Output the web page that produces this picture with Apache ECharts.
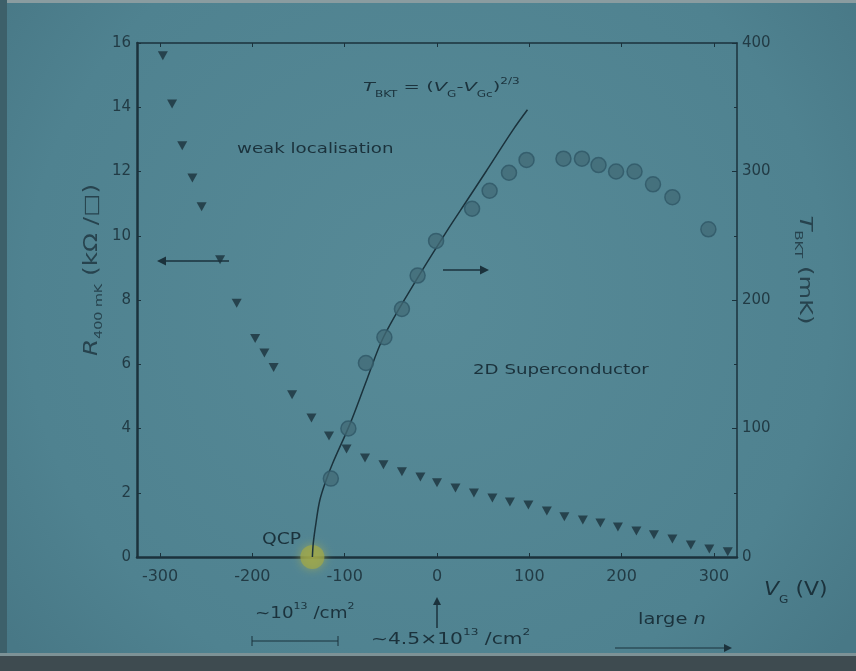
<!DOCTYPE html>
<html>
<head>
<meta charset="utf-8">
<title>Gate-tuned superconductor phase diagram</title>
<script src="https://cdn.jsdelivr.net/npm/echarts@6/dist/echarts.min.js"></script>
<style>
  html, body { margin: 0; padding: 0; background: #4f7f8b; }
  #chart { width: 856px; height: 671px; }
</style>
</head>
<body>
<div id="chart"></div>
<script>
// Sheet resistance at 400 mK (left axis, kΩ/□) versus gate voltage V_G (V)
const resistanceVg = [-297, -287, -276, -265, -255, -235, -217, -197, -187, -177, -157, -136, -117, -98, -78,
  -58, -38, -18, 0, 20, 40, 60, 79, 99, 119, 138, 158, 177, 196, 216, 235, 255, 275, 295, 315];
const resistanceR = [15.6, 14.1, 12.8, 11.8, 10.9, 9.25, 7.9, 6.8, 6.35, 5.9, 5.05, 4.33, 3.77, 3.36, 3.08,
  2.87, 2.65, 2.49, 2.31, 2.15, 1.99, 1.84, 1.71, 1.62, 1.43, 1.25, 1.15, 1.06, 0.93, 0.81, 0.69, 0.56, 0.37, 0.25, 0.16];

// BKT transition temperature (right axis, mK) versus gate voltage
const tbktVg = [-115, -96, -77, -57, -38, -21, -1, 38, 57, 78, 97, 137, 157, 175, 194, 214, 234, 255, 294];
const tbktT = [61, 100, 151, 171, 193, 219, 246, 271, 285, 299, 309, 310, 310, 305, 300, 300, 290, 280, 255];

// Fitted critical curve T_BKT ∝ (V_G − V_Gc)^(2/3), sampled points
const fitVg = [-135, -134, -131, -127, -120, -113, -94, -76, -58, -22, 11, 33, 54, 82, 98];
const fitT = [0, 11, 27, 44, 60, 73, 104, 138, 171, 216, 254, 278, 301, 332, 348];

// Quantum critical point
const qcpVg = -135;

// Axis ticks
const xTicks = [-300, -200, -100, 0, 100, 200, 300];

const pairs = (xs, ys) => xs.map((x, i) => [x, ys[i]]);

const ink = '#1b323c';
const softInk = '#27434e';
const labelInk = '#223b45';
const font = '"DejaVu Sans", Verdana, sans-serif';

const chart = echarts.init(document.getElementById('chart'), null, { renderer: 'canvas' });

function arrowHead(x, y, dir, size) {
  const s = size;
  let pts;
  if (dir === 'left') pts = [[x, y], [x + s, y - s * 0.5], [x + s, y + s * 0.5]];
  else if (dir === 'right') pts = [[x, y], [x - s, y - s * 0.5], [x - s, y + s * 0.5]];
  else pts = [[x, y], [x - s * 0.5, y + s], [x + s * 0.5, y + s]];
  return { type: 'polygon', shape: { points: pts }, style: { fill: ink }, z: 20 };
}

function richStyles(size, subSize, lh, color) {
  const c = color || ink;
  return {
    i: { fontSize: size, fontStyle: 'italic', fill: c, fontFamily: font, lineHeight: lh, verticalAlign: 'middle' },
    n: { fontSize: size, fill: c, fontFamily: font, lineHeight: lh, verticalAlign: 'middle' },
    sub: { fontSize: subSize, fill: c, fontFamily: font, lineHeight: lh, verticalAlign: 'bottom' },
    sup: { fontSize: subSize, fill: c, fontFamily: font, lineHeight: lh, verticalAlign: 'top' }
  };
}

// Rich text element, stretched along its reading direction by `stretch`
function label(x, y, text, size, subSize, stretch, extra) {
  const lh = Math.round(size * 1.6);
  return Object.assign({
    type: 'text', x: x, y: y, z: 20, scaleX: stretch, scaleY: 1,
    style: { rich: richStyles(size, subSize, lh, extra && extra.color), text: text, align: 'left', verticalAlign: 'middle' }
  }, extra && extra.el);
}

const option = {
  animation: false,
  textStyle: { fontFamily: font },
  grid: { left: 137, right: 119, top: 43, bottom: 114, containLabel: false },
  graphic: [
    // slide backdrop
    {
      type: 'rect', z: -10, silent: true,
      shape: { x: 0, y: 0, width: 856, height: 671 },
      style: {
        fill: new echarts.graphic.RadialGradient(0.5, 0.45, 0.8, [
          { offset: 0, color: '#578a97' },
          { offset: 0.75, color: '#4f8290' },
          { offset: 1, color: '#487886' }
        ])
      }
    },
    { type: 'rect', z: -9, silent: true, shape: { x: 0, y: 0, width: 856, height: 3 }, style: { fill: '#8a9ca0' } },
    { type: 'rect', z: -9, silent: true, shape: { x: 0, y: 0, width: 7, height: 671 }, style: { fill: '#3d606a' } },
    { type: 'rect', z: -9, silent: true, shape: { x: 0, y: 653, width: 856, height: 3 }, style: { fill: '#7d9296' } },
    { type: 'rect', z: -9, silent: true, shape: { x: 0, y: 656, width: 856, height: 15 }, style: { fill: '#3e4b50' } },

    // formula
    label(363, 88, '{i|T}{sub|BKT}{n| = (}{i|V}{sub|G}{n|-}{i|V}{sub|Gc}{n|)}{sup|2/3}', 13, 8, 1.5),
    // region labels
    label(237, 149, '{n|weak localisation}', 14, 9, 1.3),
    label(473, 370, '{n|2D Superconductor}', 14, 9, 1.3),
    label(262, 540, '{n|QCP}', 15, 9, 1.25),

    // axis-assignment arrows
    { type: 'line', z: 20, shape: { x1: 164, y1: 261, x2: 229, y2: 261 }, style: { stroke: ink, lineWidth: 1.5 } },
    arrowHead(157, 261, 'left', 9),
    { type: 'line', z: 20, shape: { x1: 443, y1: 270, x2: 482, y2: 270 }, style: { stroke: ink, lineWidth: 1.5 } },
    arrowHead(489, 270, 'right', 9),

    // axis titles (rotated, centred)
    {
      type: 'text', x: 92, y: 270, rotation: Math.PI / 2, scaleX: 1.3, z: 20,
      style: { rich: richStyles(19, 11, 26, softInk), text: '{i|R}{sub|400 mK}{n| (kΩ /□)}', align: 'center', verticalAlign: 'middle' }
    },
    {
      type: 'text', x: 805, y: 270, rotation: -Math.PI / 2, scaleX: 1.35, z: 20,
      style: { rich: richStyles(18, 11, 26, softInk), text: '{i|T}{sub|BKT}{n| (mK)}', align: 'center', verticalAlign: 'middle' }
    },
    label(764, 590, '{i|V}{sub|G}{n| (V)}', 20, 11, 1.1),

    // carrier density annotations below the axis
    label(255, 614, '{n|~10}{sup|13}{n| /cm}{sup|2}', 15, 9, 1.22),
    { type: 'line', z: 20, shape: { x1: 252, y1: 641, x2: 338, y2: 641 }, style: { stroke: ink, lineWidth: 1 } },
    { type: 'line', z: 20, shape: { x1: 252, y1: 636, x2: 252, y2: 646 }, style: { stroke: ink, lineWidth: 1 } },
    { type: 'line', z: 20, shape: { x1: 338, y1: 636, x2: 338, y2: 646 }, style: { stroke: ink, lineWidth: 1 } },
    { type: 'line', z: 20, shape: { x1: 437, y1: 604, x2: 437, y2: 628 }, style: { stroke: ink, lineWidth: 1.5 } },
    arrowHead(437, 597, 'up', 8),
    label(371, 640, '{n|~4.5×10}{sup|13}{n| /cm}{sup|2}', 15, 9, 1.35),
    label(638, 620, '{n|large }{i|n}', 15, 9, 1.3),
    { type: 'line', z: 20, shape: { x1: 615, y1: 648, x2: 725, y2: 648 }, style: { stroke: ink, lineWidth: 1 } },
    arrowHead(732, 648, 'right', 8)
  ],
  xAxis: [
    {
      type: 'value', position: 'bottom', min: -325, max: 325,
      axisLine: { show: true, onZero: false, lineStyle: { color: ink, width: 2.5 } },
      axisTick: { show: true, inside: true, length: 4, customValues: xTicks, lineStyle: { color: ink } },
      axisLabel: {
        show: true, customValues: xTicks, margin: 12, fontSize: 16, color: labelInk, fontFamily: font,
        formatter: v => (v < 0 ? '-' + Math.abs(v) : String(v))
      },
      splitLine: { show: false }
    },
    {
      type: 'value', position: 'top', min: -325, max: 325,
      axisLine: { show: true, onZero: false, lineStyle: { color: ink, width: 1.5 } },
      axisTick: { show: true, inside: true, length: 4, customValues: xTicks, lineStyle: { color: ink } },
      axisLabel: { show: false },
      splitLine: { show: false }
    }
  ],
  yAxis: [
    {
      type: 'value', position: 'left', min: 0, max: 16, interval: 2,
      axisLine: { show: true, onZero: false, lineStyle: { color: ink, width: 2.5 } },
      axisTick: { show: true, inside: true, length: 4, lineStyle: { color: ink } },
      axisLabel: { margin: 6, fontSize: 15, color: labelInk, fontFamily: font },
      splitLine: { show: false }
    },
    {
      type: 'value', position: 'right', min: 0, max: 400, interval: 100,
      axisLine: { show: true, onZero: false, lineStyle: { color: ink, width: 1.5 } },
      axisTick: { show: true, inside: true, length: 5, lineStyle: { color: ink } },
      minorTick: { show: true, splitNumber: 2, length: 3, lineStyle: { color: ink } },
      axisLabel: { margin: 5, fontSize: 15, color: labelInk, fontFamily: font },
      splitLine: { show: false }
    }
  ],
  series: [
    {
      name: 'QCP', type: 'scatter', xAxisIndex: 0, yAxisIndex: 0,
      data: [[qcpVg, 0]], symbol: 'circle', symbolSize: 24, z: 1,
      itemStyle: { color: 'rgba(160,168,72,0.9)', shadowColor: 'rgba(170,175,80,0.9)', shadowBlur: 10 },
      silent: true
    },
    {
      name: 'fit', type: 'line', xAxisIndex: 0, yAxisIndex: 1,
      data: pairs(fitVg, fitT), smooth: 0.35, showSymbol: false, symbol: 'none',
      lineStyle: { color: ink, width: 1.5 }, z: 3
    },
    {
      name: 'T_BKT', type: 'scatter', xAxisIndex: 0, yAxisIndex: 1,
      data: pairs(tbktVg, tbktT), symbol: 'circle', symbolSize: 15, z: 4,
      itemStyle: { color: 'rgba(66,106,118,0.95)', borderColor: '#2f5866', borderWidth: 1.5 }
    },
    {
      name: 'R_400mK', type: 'scatter', xAxisIndex: 0, yAxisIndex: 0,
      data: pairs(resistanceVg, resistanceR), symbol: 'triangle', symbolRotate: 180, symbolSize: [10, 9], z: 5,
      itemStyle: { color: ink }
    }
  ]
};

chart.setOption(option);
</script>
</body>
</html>
